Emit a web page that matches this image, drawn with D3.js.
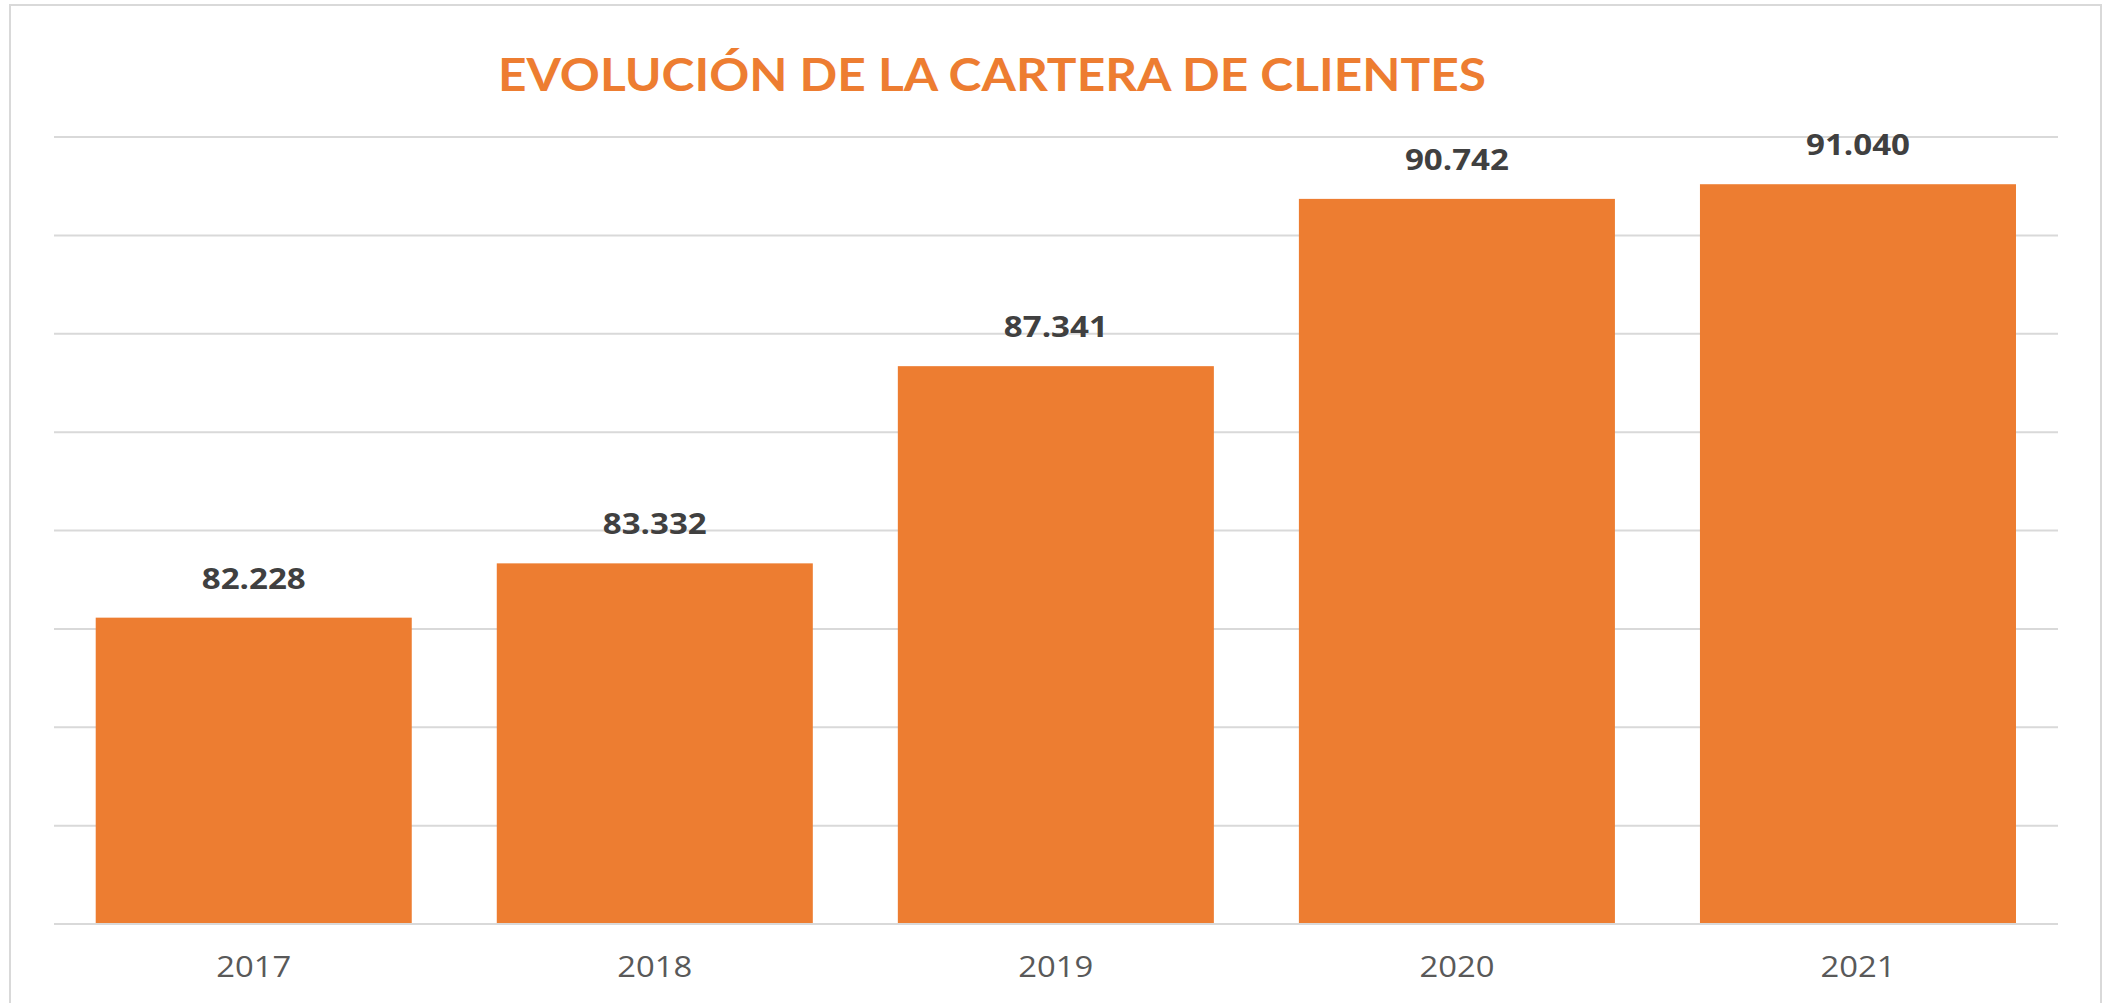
<!DOCTYPE html>
<html>
<head>
<meta charset="utf-8">
<script src="https://cdn.jsdelivr.net/npm/d3@7"></script>
<style>
  html, body { margin: 0; padding: 0; background: #ffffff; }
  svg { display: block; }
</style>
</head>
<body>
<svg id="chart" width="2113" height="1003"></svg>
<script>
// ---- data ----
const title = "EVOLUCIÓN DE LA CARTERA DE CLIENTES";
const years = ["2017", "2018", "2019", "2020", "2021"];
const clientes = [82.228, 83.332, 87.341, 90.742, 91.040];
const valueLabels = ["82.228", "83.332", "87.341", "90.742", "91.040"];
const yTicks = [76, 78, 80, 82, 84, 86, 88, 90, 92];

// ---- layout ----
const W = 2113, H = 1003;
const svg = d3.select("#chart");
const orange = "#ED7D31";
const grid = "#D9D9D9";

// chart area border
svg.append("rect")
  .attr("x", 10).attr("y", 5)
  .attr("width", 2101 - 10).attr("height", H + 20)
  .attr("fill", "#ffffff")
  .attr("stroke", grid).attr("stroke-width", 2);

const x = d3.scaleBand().domain(years).range([53.2, 2058.5]).paddingInner(0.212).paddingOuter(0.106);
const y = d3.scaleLinear().domain([76, 92]).range([924, 137]);

// gridlines
svg.append("g").selectAll("line").data(yTicks).join("line")
  .attr("x1", 54).attr("x2", 2058)
  .attr("y1", d => y(d)).attr("y2", d => y(d))
  .attr("stroke", grid).attr("stroke-width", 2);

// bars
svg.append("g").selectAll("rect").data(years).join("rect")
  .attr("x", d => x(d))
  .attr("width", x.bandwidth())
  .attr("y", (d, i) => y(clientes[i]))
  .attr("height", (d, i) => y(76) - y(clientes[i]))
  .attr("fill", orange);

// baseline on top of bars
svg.append("line")
  .attr("x1", 54).attr("x2", 2058)
  .attr("y1", y(76)).attr("y2", y(76))
  .attr("stroke", grid).attr("stroke-width", 2);

// x axis labels via d3 axis
const xAxis = svg.append("g")
  .attr("transform", `translate(0,${y(76)})`)
  .call(d3.axisBottom(x).tickSize(0).tickPadding(0));
xAxis.select(".domain").remove();
xAxis.selectAll("text")
  .attr("dy", null)
  .attr("y", 53)
  .attr("font-family", "'Open Sans', sans-serif")
  .attr("font-size", 30)
  .attr("fill", "#595959")
  .attr("textLength", 75)
  .attr("lengthAdjust", "spacingAndGlyphs");

// data labels
svg.append("g").selectAll("text").data(years).join("text")
  .attr("x", d => x(d) + x.bandwidth() / 2)
  .attr("y", (d, i) => y(clientes[i]) - 29)
  .attr("text-anchor", "middle")
  .attr("font-family", "'Open Sans', sans-serif")
  .attr("font-weight", 700)
  .attr("font-size", 28)
  .attr("fill", "#404040")
  .attr("textLength", 104)
  .attr("lengthAdjust", "spacingAndGlyphs")
  .text((d, i) => valueLabels[i]);

// title
svg.append("text")
  .attr("x", 992).attr("y", 91)
  .attr("text-anchor", "middle")
  .attr("font-family", "Lato, sans-serif")
  .attr("font-weight", 700)
  .attr("font-size", 45)
  .attr("fill", orange)
  .attr("textLength", 988)
  .attr("lengthAdjust", "spacingAndGlyphs")
  .text(title);
</script>
</body>
</html>
